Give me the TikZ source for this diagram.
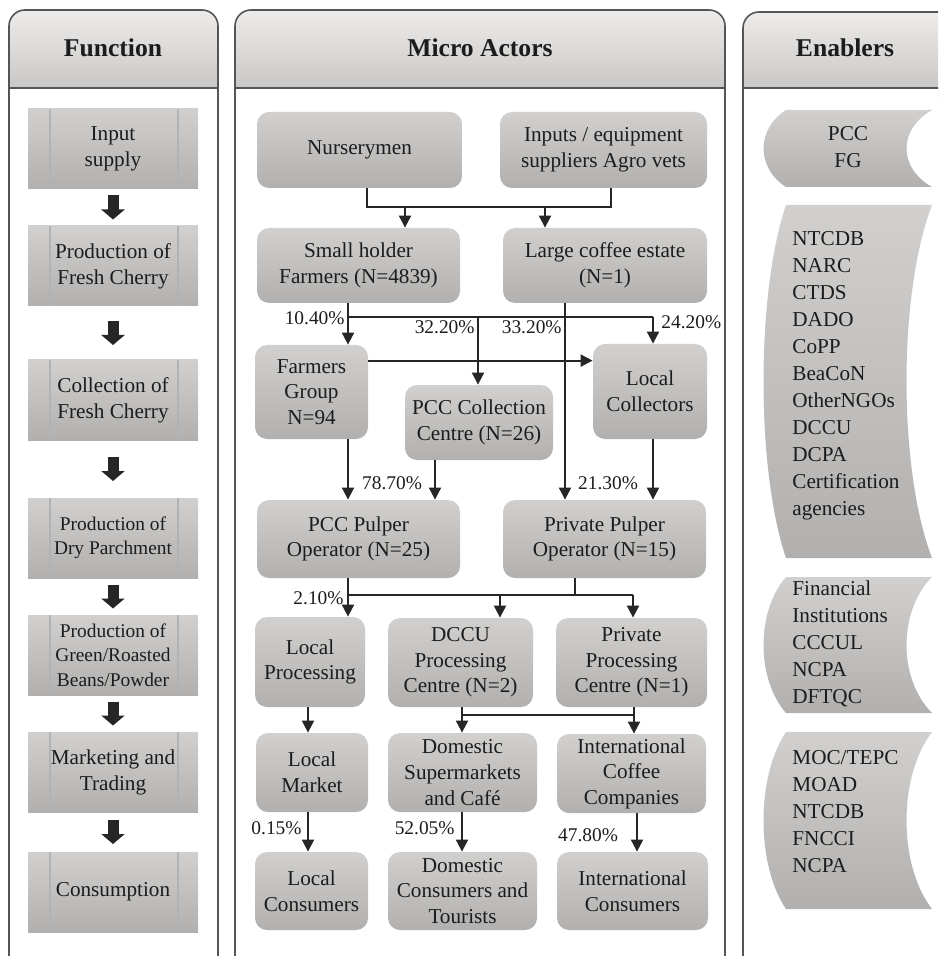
\documentclass[tikz,border=0pt]{standalone}
\usepackage{fontspec}
\setmainfont{Liberation Serif}
\usepackage{tikz}
\usetikzlibrary{arrows.meta,positioning,calc}
\definecolor{panelgray}{RGB}{85,85,85}
\definecolor{headtop}{RGB}{238,236,234}
\definecolor{headbot}{RGB}{196,194,192}
\definecolor{boxtop}{RGB}{210,208,206}
\definecolor{boxbot}{RGB}{178,176,174}
\definecolor{textgray}{RGB}{28,28,28}

% short block arrow between two function boxes
\newcommand{\funcarrow}[2]{\draw[blockarrow] ($(#1.south)!0.5!(#2.north)+(0,-12)$) -- ($(#1.south)!0.5!(#2.north)+(0,12)$);}
% enabler shape: top and bottom (px)
\newcommand{\enabshape}[2]{\path[top color=boxtop, bottom color=boxbot] (786,#1) -- (932,#1) .. controls (898,{#1+0.25*(#2-#1)}) and (898,{#2-0.25*(#2-#1)}) .. (932,#2) -- (786,#2) .. controls (756,{#2-0.25*(#2-#1)}) and (756,{#1+0.25*(#2-#1)}) .. (786,#1) -- cycle;}

\begin{document}
\begin{tikzpicture}[x=0.5pt, y=-0.5pt,
    panel/.style={draw=panelgray, line width=0.8pt},
    header/.style={font=\bfseries\fontsize{12.8}{15}\selectfont, text=textgray},
    fbox/.style={rectangle, top color=boxtop, bottom color=boxbot, minimum width=85pt, minimum height=40pt, inner sep=0pt, align=center, text=textgray, font=\fontsize{10.6}{13}\selectfont,
        path picture={\draw[black!30, line width=0.6pt] ([xshift=11pt]path picture bounding box.north west) -- ([xshift=11pt]path picture bounding box.south west);
                      \draw[black!30, line width=0.6pt] ([xshift=-10pt]path picture bounding box.north east) -- ([xshift=-10pt]path picture bounding box.south east);}},
    actor/.style={rectangle, rounded corners=6pt, top color=boxtop, bottom color=boxbot, inner sep=0pt, align=center, text=textgray, font=\fontsize{10.6}{12.8}\selectfont},
    pct/.style={font=\fontsize{9.7}{11}\selectfont, text=textgray, inner sep=1pt},
    enab/.style={align=left, anchor=north west, inner sep=0pt, text=textgray, font=\fontsize{10.6}{13.5}\selectfont},
    link/.style={draw=black!85, line width=1pt},
    arrow/.style={link, -{Triangle[length=6pt, width=6pt]}},
    blockarrow/.style={draw=black!85, line width=5.5pt, -{Triangle[length=5pt, width=11.5pt]}}
]
\useasboundingbox (0,0) rectangle (938,956);
\clip (0,0) rectangle (938,956);

% Panels
\shade[top color=headtop, bottom color=headbot, rounded corners=8pt] (9,10) rectangle (218,100);
\shade[top color=headtop, bottom color=headbot, rounded corners=8pt] (235,10) rectangle (725,100);
\shade[top color=headtop, bottom color=headbot, rounded corners=8pt] (743,12) rectangle (960,100);
\fill[white] (9,88) rectangle (960,110);
\draw[panel, rounded corners=8pt] (9,960) -- (9,10) -- (218,10) -- (218,960);
\draw[panel, rounded corners=8pt] (235,960) -- (235,10) -- (725,10) -- (725,960);
\draw[panel, rounded corners=8pt] (743,960) -- (743,12) -- (960,12);
\draw[panel, line width=1.3pt] (9,88) -- (218,88);
\draw[panel, line width=1.3pt] (235,88) -- (725,88);
\draw[panel, line width=1.3pt] (743,88) -- (960,88);

\node[header] (hfunc) at (113,48) {Function};
\node[header] (hactors) at (480,48) {Micro Actors};
\node[header] (henab) at (845,48) {Enablers};

% Functions
\node[fbox] (f1) at (113,149) {Input\\supply};
\node[fbox] (f2) at (113,266) {Production of\\Fresh Cherry};
\node[fbox] (f3) at (113,400) {Collection of\\Fresh Cherry};
\node[fbox, font=\fontsize{9.7}{12}\selectfont] (f4) at (113,538) {Production of\\Dry Parchment};
\node[fbox, font=\fontsize{9.7}{12.2}\selectfont] (f5) at (113,655) {Production of\\Green/Roasted\\Beans/Powder};
\node[fbox] (f6) at (113,772) {Marketing and\\Trading};
\node[fbox] (f7) at (113,892) {Consumption};

\funcarrow{f1}{f2}
\funcarrow{f2}{f3}
\funcarrow{f3}{f4}
\funcarrow{f4}{f5}
\funcarrow{f5}{f6}
\funcarrow{f6}{f7}

% Micro actors
\node[actor, minimum width=102.5pt, minimum height=38pt] (nurs) at (359.5,150) {Nurserymen};
\node[actor, minimum width=103.5pt, minimum height=38pt] (inputs) at (603.5,150) {Inputs / equipment\\suppliers Agro vets};
\node[actor, minimum width=101.5pt, minimum height=37.5pt] (small) at (358.5,265.5) {Small holder\\Farmers (N=4839)};
\node[actor, minimum width=102pt, minimum height=37.5pt] (large) at (605,265.5) {Large coffee estate\\(N=1)};
\node[actor, minimum width=56.5pt, minimum height=47pt] (fgroup) at (311.5,392) {Farmers\\Group\\N=94};
\node[actor, minimum width=74pt, minimum height=37.5pt] (pccc) at (479,422.5) {PCC Collection\\Centre (N=26)};
\node[actor, minimum width=57pt, minimum height=47.5pt] (lcoll) at (650,391.5) {Local\\Collectors};
\node[actor, minimum width=101.5pt, minimum height=39pt] (pccp) at (358.5,539) {PCC Pulper\\Operator (N=25)};
\node[actor, minimum width=101.5pt, minimum height=39pt] (privp) at (604.5,539) {Private Pulper\\Operator (N=15)};
\node[actor, minimum width=55pt, minimum height=45pt] (lproc) at (310,662) {Local\\Processing};
\node[actor, minimum width=72.5pt, minimum height=44.5pt] (dccu) at (460.5,662.5) {DCCU\\Processing\\Centre (N=2)};
\node[actor, minimum width=75.5pt, minimum height=44.5pt] (privproc) at (631.5,662.5) {Private\\Processing\\Centre (N=1)};
\node[actor, minimum width=56pt, minimum height=39.5pt] (lmarket) at (312,772.5) {Local\\Market};
\node[actor, minimum width=74.5pt, minimum height=39.5pt] (dsuper) at (462.5,772.5) {Domestic\\Supermarkets\\and Café};
\node[actor, minimum width=74.5pt, minimum height=39.5pt] (icc) at (631.5,773.5) {International\\Coffee\\Companies};
\node[actor, minimum width=56.5pt, minimum height=39pt] (lcons) at (311.5,891) {Local\\Consumers};
\node[actor, minimum width=74.5pt, minimum height=39pt] (dcons) at (462.5,891) {Domestic\\Consumers and\\Tourists};
\node[actor, minimum width=75.5pt, minimum height=39pt] (icons) at (632.5,891) {International\\Consumers};

% Supply to producers
\coordinate (n1) at (367,207);
\coordinate (n2) at (611,207);
\coordinate (n3) at (405,207);
\coordinate (n4) at (545,207);
\draw[link] (nurs.south -| n1) -- (n1) -- (n2) -- (inputs.south -| n2);
\draw[arrow] (n3) -- (n3 |- small.north);
\draw[arrow] (n4) -- (n4 |- large.north);

% Producers to collectors
\coordinate (s1) at (348,317);
\coordinate (s2) at (478,317);
\coordinate (s3) at (653,317);
\coordinate (s4) at (565,317);
\draw[link] (small.south -| s1) -- (s1) -- (s3);
\draw[arrow] (s1) -- (s1 |- fgroup.north);
\draw[arrow] (s2) -- (s2 |- pccc.north);
\draw[arrow] (s3) -- (s3 |- lcoll.north);
\draw[arrow] (large.south -| s4) -- (s4 |- privp.north);
\draw[arrow] ($(fgroup.north east)+(0,16)$) coordinate (f1a) -- (f1a -| lcoll.west);

% Collectors to pulpers
\coordinate (c1) at (435,470);
\draw[arrow] (fgroup.south -| s1) -- (s1 |- pccp.north);
\draw[arrow] (pccc.south -| c1) -- (c1 |- pccp.north);
\draw[arrow] (lcoll.south -| s3) -- (s3 |- privp.north);

% Pulpers to processing
\coordinate (p1) at (348,595);
\coordinate (p2) at (500,595);
\coordinate (p3) at (633,595);
\coordinate (p4) at (575,595);
\draw[link] (pccp.south -| p1) -- (p1) -- (p3);
\draw[link] (privp.south -| p4) -- (p4);
\draw[arrow] (p1) -- (p1 |- lproc.north);
\draw[arrow] (p2) -- (p2 |- dccu.north);
\draw[arrow] (p3) -- (p3 |- privproc.north);

% Processing to markets
\coordinate (m1) at (308,720);
\coordinate (m2) at (462,715);
\coordinate (m3) at (634,715);
\coordinate (m4) at (637,835);
\draw[arrow] (lproc.south -| m1) -- (m1 |- lmarket.north);
\draw[link] (m2) -- (m3);
\draw[arrow] (dccu.south -| m2) -- (m2 |- dsuper.north);
\draw[arrow] (privproc.south -| m3) -- (m3 |- icc.north);

% Markets to consumers
\draw[arrow] (lmarket.south -| m1) -- (m1 |- lcons.north);
\draw[arrow] (dsuper.south -| m2) -- (m2 |- dcons.north);
\draw[arrow] (icc.south -| m4) -- (m4 |- icons.north);

% Shares
\node[pct, anchor=east] (p1040) at (347,318) {10.40\%};
\node[pct, anchor=east] (p3220) at (477,327) {32.20\%};
\node[pct, anchor=east] (p3320) at (564,327) {33.20\%};
\node[pct, anchor=west] (p2420) at (659,322) {24.20\%};
\node[pct] (p7870) at (392,483) {78.70\%};
\node[pct] (p2130) at (608,483) {21.30\%};
\node[pct, anchor=east] (p210) at (346,598) {2.10\%};
\node[pct, anchor=east] (p015) at (304,828) {0.15\%};
\node[pct, anchor=east] (p5205) at (457,828) {52.05\%};
\node[pct] (p4780) at (588,835) {47.80\%};

% Enablers
\enabshape{110}{187}
\enabshape{205}{558}
\enabshape{577}{713}
\enabshape{732}{909}
\node[enab, align=center, anchor=center] (e1) at (848,147) {PCC\\FG};
\node[enab] (e2) at (792,231) {NTCDB\\NARC\\CTDS\\DADO\\CoPP\\BeaCoN\\OtherNGOs\\DCCU\\DCPA\\Certification\\agencies};
\node[enab] (e3) at (792,580) {Financial\\Institutions\\CCCUL\\NCPA\\DFTQC};
\node[enab] (e4) at (792,750) {MOC/TEPC\\MOAD\\NTCDB\\FNCCI\\NCPA};

\end{tikzpicture}
\end{document}
